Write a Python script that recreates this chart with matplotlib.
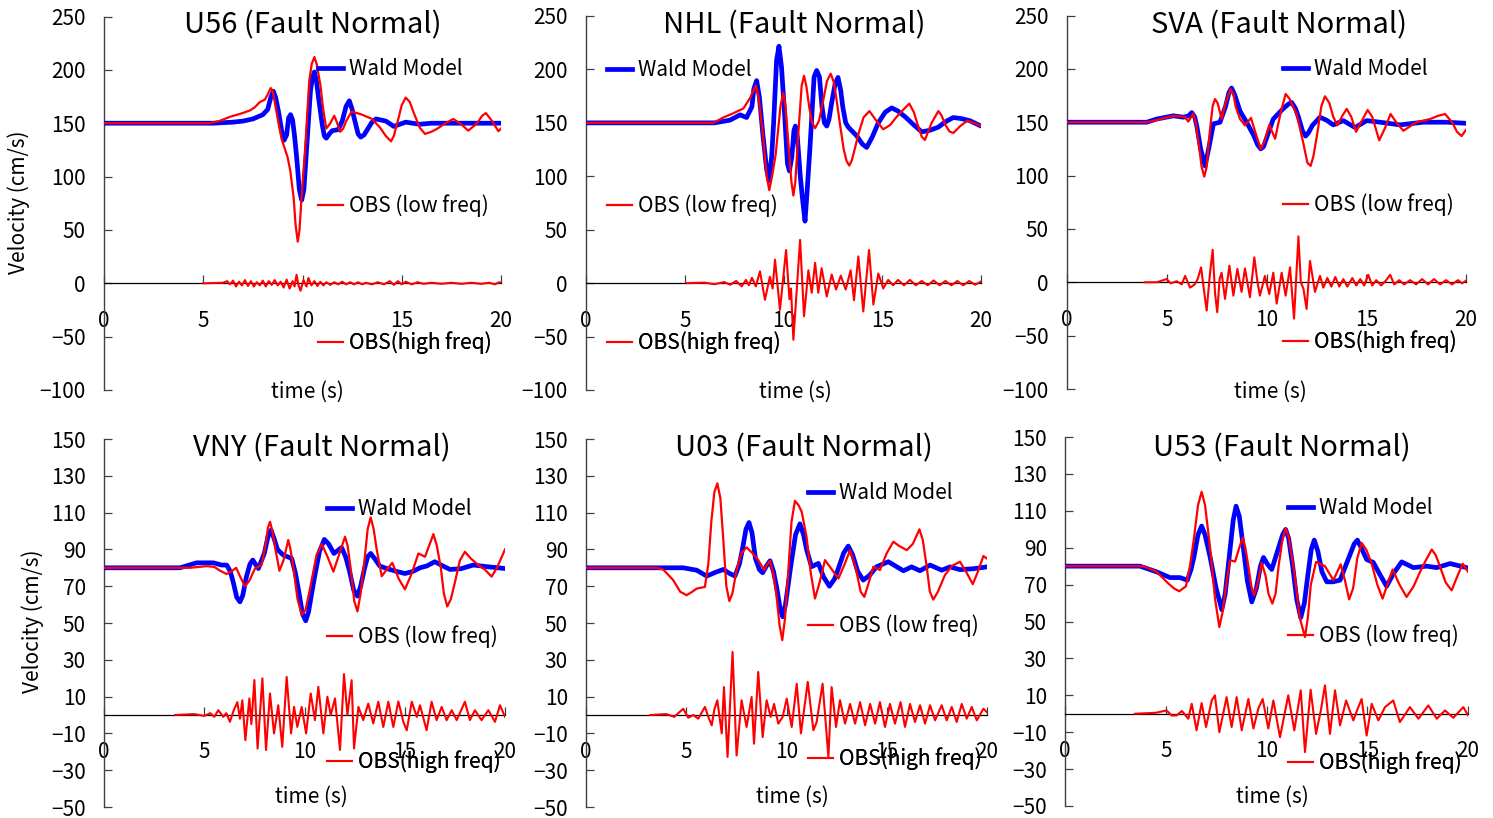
import numpy as np
import matplotlib
matplotlib.use('Agg')
import matplotlib.pyplot as plt
from matplotlib.lines import Line2D

plt.rcParams['font.family'] = ['Noto Sans CJK JP', 'DejaVu Sans']
plt.rcParams['axes.unicode_minus'] = True

# ---------------- data (time s, velocity cm/s) ----------------
U56_WALD = [(0,150),(5.5,150),(6.5,151),(7.0,152),(7.5,154),(8.0,158),(8.25,163),(8.4,174),(8.53,180),(8.65,174),
            (8.8,160),(8.95,143),(9.07,134),(9.2,139),(9.3,155),(9.4,158),(9.5,153),(9.6,138),(9.72,115),(9.84,88),
            (9.96,78),(10.07,88),(10.2,124),(10.4,180),(10.5,193),(10.6,198),(10.7,190),(10.8,175),(11.0,148),
            (11.1,138),(11.2,136),(11.35,140),(11.5,143),(11.8,144),(12.0,152),(12.2,166),(12.36,171),(12.5,163),
            (12.6,155),(12.8,140),(12.93,137),(13.1,139),(13.3,145),(13.5,151),(13.7,154),(14.2,152),(14.6,147),
            (14.9,149),(15.2,151),(15.9,149),(16.5,150),(20,150)]
U56_LOW = [(0,150),(5.3,150),(5.8,152),(6.35,156),(6.9,159),(7.36,162),(7.6,165),(7.86,170),(8.1,172),(8.25,177),
           (8.4,183),(8.5,180),(8.6,170),(8.79,150),(8.95,135),(9.13,125),(9.25,118),(9.38,106),(9.55,81),(9.65,55),
           (9.76,39),(9.85,50),(9.95,80),(10.13,125),(10.34,190),(10.47,206),(10.6,212),(10.72,205),(10.9,186),
           (11.05,162),(11.2,145),(11.4,150),(11.6,157),(11.75,150),(11.9,142),(12.05,145),(12.2,152),(12.48,161),
           (13.0,158),(13.5,154),(13.9,146),(14.2,138),(14.46,133),(14.6,138),(14.8,152),(15.0,167),(15.2,174),
           (15.4,170),(15.6,160),(15.9,146),(16.17,140),(16.5,142),(16.8,145),(17.2,150),(17.6,154),(18.0,149),
           (18.35,143),(18.8,150),(19.05,157),(19.24,159.5),(19.55,152),(19.87,142.5),(20,145)]
U56_HIGH = [(5.0,0),(6.0,0.5),(6.2,2),(6.35,-1),(6.5,2.5),(6.65,-3),(6.8,1.5),(6.95,-2),(7.1,3),(7.25,-2.5),(7.4,2),
            (7.55,-3),(7.7,1),(7.85,-2),(8.0,2.5),(8.15,-3),(8.3,2),(8.45,-1.5),(8.6,3),(8.75,-2),(8.9,1.5),(9.05,-4),
            (9.2,3.5),(9.35,-5),(9.5,2),(9.6,-3),(9.7,8),(9.8,-2),(9.9,-7),(10.05,3),(10.2,-3),(10.3,5),(10.45,-2),
            (10.6,2),(10.75,-2.5),(10.9,1.5),(11.05,-2),(11.2,1),(11.4,-1.5),(11.6,1),(11.8,-1),(12.0,1.5),(12.2,-1),
            (12.4,1),(12.6,-1),(12.8,1),(13.0,-1),(13.2,0.5),(13.5,-1),(13.8,1),(14.1,-1),(14.4,2),(14.6,-1.5),
            (14.8,2),(15.0,-1),(15.2,1.5),(15.5,-1),(15.8,1),(16.1,-0.5),(16.5,0.5),(17.0,-0.5),(17.5,0.5),
            (18.0,-0.5),(18.5,0.5),(19.0,-0.5),(19.4,0.5),(19.7,-1),(19.9,1),(20,0.5)]

NHL_WALD = [(0,150),(6.5,150),(7.29,152.5),(7.8,157.5),(8.13,155),(8.4,165),(8.5,182),(8.64,189.5),(8.78,174),
            (8.95,140),(9.15,106),(9.27,96),(9.4,118),(9.5,150),(9.65,208.6),(9.77,221.7),(9.9,202),(10.05,160),
            (10.2,112),(10.3,105),(10.42,118),(10.53,143),(10.6,147),(10.7,137),(10.85,100),(10.95,81),(11.09,58),
            (11.2,87),(11.35,130),(11.55,193),(11.68,199),(11.82,193),(11.95,165),(12.07,150),(12.19,147),
            (12.3,153),(12.45,170),(12.62,187),(12.76,192.5),(12.9,180),(13.0,165),(13.15,150),(13.28,146),
            (13.7,138),(14.0,130),(14.21,127),(14.5,137),(14.8,150),(15.15,160),(15.48,164),(15.8,161),(16.2,155),
            (16.6,148),(17.0,141.6),(17.4,143),(17.84,146),(18.2,151),(18.6,155),(19.0,154),(19.44,152),(20,147)]
NHL_LOW = [(0,150),(6.45,150),(6.95,155),(7.46,159),(7.97,163.5),(8.3,173),(8.5,181),(8.61,185),(8.72,176),
           (8.95,140),(9.15,100),(9.28,87),(9.42,100),(9.6,120),(9.85,166),(9.99,178),(10.1,166),(10.25,130),
           (10.4,95),(10.5,82),(10.6,95),(10.75,140),(10.92,185),(11.04,194),(11.16,184),(11.3,165),(11.45,150),
           (11.6,145),(11.8,152),(12.0,170),(12.2,189),(12.39,196),(12.55,188),(12.7,170),(12.85,150),(13.05,125),
           (13.2,114),(13.33,110),(13.46,115),(13.6,125),(13.8,140),(14.05,155),(14.35,161),(14.7,152),(15.05,144),
           (15.4,148),(15.7,155),(16.05,162),(16.37,168),(16.6,160),(16.8,148),(17.0,137),(17.16,134),(17.35,143),
           (17.5,150),(17.84,161),(18.0,157),(18.2,148),(18.4,142),(18.6,140.5),(18.95,147),(19.31,152),
           (19.65,150),(20,147)]
NHL_HIGH = [(5.1,0),(6.0,0.5),(6.5,-1),(7.0,1),(7.3,-1.5),(7.6,2),(7.88,-3),(8.1,3),(8.25,-2),(8.4,5),(8.6,-3),
            (8.81,11),(9.06,-15.6),(9.31,6),(9.45,-5),(9.57,22),(9.82,-25),(10.13,31),(10.3,-15),(10.38,-5),
            (10.5,-53),(10.84,40.5),(11.04,-31),(11.26,12),(11.43,-9),(11.6,19),(11.76,-9),(11.93,14),(12.19,-12.5),
            (12.44,8),(12.66,-6),(12.9,7),(13.15,-6),(13.4,12),(13.57,-16),(13.79,25),(14.04,-26.5),(14.33,31),
            (14.55,-20),(14.8,9),(15.05,-5),(15.3,3),(15.55,-2),(15.8,3),(16.1,-2),(16.4,3),(16.7,-2),(17.0,2),
            (17.3,-2),(17.6,2.5),(17.9,-2),(18.2,2),(18.5,-2),(18.8,2),(19.1,-2),(19.4,2),(19.7,-1.5),(20,1.5)]

SVA_WALD = [(0,150),(4.0,150),(4.5,153),(5.33,156),(5.83,154.7),(6.1,156),(6.25,159),(6.4,155),(6.5,147),
            (6.7,125),(6.92,109),(7.1,125),(7.34,148.5),(7.67,150),(7.95,165),(8.12,178),(8.25,182),(8.4,176),
            (8.67,160.5),(9.0,150),(9.35,138),(9.55,129),(9.71,125),(9.85,127),(10.0,135),(10.34,153),(10.8,162),
            (11.1,167),(11.26,168.5),(11.45,163),(11.6,155),(11.8,142),(11.96,137),(12.1,140),(12.3,147),
            (12.68,154.7),(13.0,152),(13.35,147.5),(13.85,151.5),(14.44,145),(15.02,151.5),(15.69,150),
            (16.69,147.5),(17.86,150),(19.03,150),(20,149)]
SVA_LOW = [(0,150),(4.0,150),(4.5,152),(5.33,156),(5.9,155),(6.08,150.6),(6.33,158),(6.45,150),(6.6,130),
           (6.75,108),(6.88,99),(7.0,108),(7.15,140),(7.3,165),(7.42,171.7),(7.55,168),(7.75,153),(7.95,168),
           (8.2,181),(8.35,176),(8.45,165),(8.67,153),(8.92,147),(9.22,154),(9.45,140),(9.71,125),(9.9,132),
           (10.14,147.5),(10.43,134.5),(10.7,158),(10.96,176.5),(11.15,172),(11.51,157.7),(11.85,130),(12.05,112),
           (12.21,109),(12.35,118),(12.55,140),(12.75,165),(12.93,174.3),(13.15,168),(13.35,155),(13.55,147),
           (13.8,156),(14.02,162.5),(14.25,155),(14.49,141),(14.8,152),(15.07,161.5),(15.3,155),(15.65,133),
           (15.95,145),(16.22,157.7),(16.5,150),(16.86,142),(17.52,150),(18.2,153),(18.6,156),(18.95,157.7),
           (19.3,150),(19.55,141),(19.78,137),(20,143)]
SVA_HIGH = [(3.9,0),(4.5,0),(4.99,3),(5.2,-1),(5.5,1),(5.75,-2),(5.92,6),(6.17,-5),(6.4,-2),(6.55,3),(6.72,14),
            (6.85,-5),(7.0,-26.5),(7.15,5),(7.3,30.5),(7.42,-10),(7.53,-28),(7.65,3),(7.75,9),(7.92,-15.6),
            (8.14,15.6),(8.34,-12.5),(8.54,12.5),(8.75,-9),(8.92,13),(9.17,-14),(9.39,23.4),(9.55,0),(9.67,-12.5),
            (9.92,6),(10.14,-11),(10.34,9),(10.51,-20),(10.76,9),(10.96,-12.5),(11.18,14),(11.38,-34),(11.6,43),
            (11.72,0),(11.85,-6),(12.01,-25),(12.18,20),(12.43,-9),(12.68,6),(12.85,-5),(13.05,4),(13.25,-4),
            (13.45,5),(13.65,-4),(13.85,3),(14.05,-4),(14.3,4),(14.5,-3),(14.7,3),(14.9,-3),(15.1,7),(15.3,-3),
            (15.5,2),(15.75,-3),(16.0,2),(16.2,7),(16.4,-2),(16.65,2),(16.9,-2),(17.2,2),(17.5,-2),(17.8,3),
            (18.1,-2),(18.4,3),(18.7,-2),(19.0,2),(19.3,-2),(19.6,2),(19.8,-1),(20,1.5)]

VNY_WALD = [(0,80),(3.79,80),(4.62,82.7),(5.45,82.7),(5.87,81.5),(6.12,81.5),(6.3,78),(6.45,72),(6.62,64),
            (6.78,61.5),(6.92,65),(7.1,75),(7.28,82),(7.42,84.2),(7.55,82),(7.7,79.6),(8.0,88),(8.18,97),
            (8.33,100.5),(8.48,96),(8.65,90),(8.94,86.9),(9.36,85.1),(9.55,77),(9.7,68),(9.9,55),(10.06,51.2),
            (10.2,56),(10.5,75),(10.75,89),(10.99,95.4),(11.2,93),(11.47,87.8),(11.85,91),(12.05,86),(12.25,78),
            (12.45,68),(12.64,64.6),(12.8,70),(13.0,80),(13.15,86),(13.3,87.8),(13.5,85),(13.75,81),(14.1,79.6),
            (14.6,78),(15.01,76.9),(15.4,78),(15.76,80),(16.1,81),(16.5,83.3),(16.9,81),(17.26,79.1),(17.8,79.5),
            (18.42,81.5),(19.2,80.5),(20,79.6)]
VNY_LOW = [(0,80),(4.29,80),(5.12,80.9),(5.5,80.5),(5.79,78.4),(6.12,76.6),(6.35,78),(6.59,80),(6.8,75),
           (7.03,70),(7.25,73),(7.53,79.6),(7.86,81.5),(8.05,92),(8.18,102),(8.28,105),(8.4,100),(8.55,90),
           (8.75,78.4),(8.95,84),(9.19,95.1),(9.3,90),(9.44,80.6),(9.65,63),(9.86,54.5),(10.05,57),(10.3,70),
           (10.6,87),(10.86,92.9),(11.15,86),(11.44,77.9),(11.75,88),(12.02,96.9),(12.15,92),(12.3,80),(12.48,62),
           (12.64,56.3),(12.8,66),(13.0,85),(13.15,101),(13.3,107.4),(13.45,101),(13.6,90),(13.85,75.4),(14.1,79),
           (14.38,82.7),(14.7,74),(15.01,68.3),(15.35,77),(15.68,87.8),(16.01,86),(16.25,93),(16.43,98.3),
           (16.6,92),(16.8,80),(16.95,66),(17.12,59),(17.3,63),(17.5,72),(17.75,84),(18.0,88.7),(18.3,85),
           (18.67,81.5),(19.0,79),(19.33,75.2),(19.6,80),(20,90)]
VNY_HIGH = [(3.55,0),(4.5,0.5),(5.0,-0.5),(5.3,1),(5.5,-1),(5.7,2.6),(5.95,-1),(6.1,1),(6.28,-3.7),(6.45,2),
            (6.65,7),(6.78,-2),(6.9,8),(7.05,-13.7),(7.25,9),(7.35,-5),(7.5,19),(7.66,-18.2),(7.9,19.9),(8.08,-19),
            (8.28,11.7),(8.48,-10),(8.69,5.3),(8.89,-17.3),(9.11,20.7),(9.33,-10),(9.48,4.4),(9.64,-6.5),(9.86,4.4),
            (10.08,-10),(10.31,11.7),(10.52,-2.8),(10.69,15.3),(10.94,-10),(11.14,9.9),(11.31,0),(11.52,9),
            (11.77,-19),(11.97,22.2),(12.14,0),(12.35,18.9),(12.47,-18.2),(12.69,4.4),(12.93,-2.8),(13.18,6.2),
            (13.43,-4.6),(13.68,7.2),(13.93,-6.5),(14.18,7.2),(14.43,-6.5),(14.68,7.4),(14.93,-3.7),(15.1,-8.3),
            (15.35,7.2),(15.6,-1),(15.76,5.3),(16.09,-8.3),(16.34,7.2),(16.59,-2.8),(16.84,4.4),(17.09,-2.8),
            (17.34,2.6),(17.59,-2.8),(18.0,7.2),(18.25,-2.8),(18.5,2.6),(18.83,-2.8),(19.17,2.6),(19.5,-3.7),
            (19.75,5.3),(20,-1)]

U03_WALD = [(0,80),(4.0,80),(4.85,80),(5.52,78.7),(6.02,75.5),(6.45,77.5),(6.85,79.1),(7.15,77),(7.43,75.5),
            (7.65,82),(7.8,90),(7.98,101),(8.13,104.6),(8.28,99),(8.45,85),(8.65,79),(8.81,77.3),(9.0,81),
            (9.18,83.8),(9.35,78),(9.5,70),(9.68,58),(9.81,53.4),(9.95,60),(10.2,80),(10.45,98),(10.67,103.9),
            (10.85,98),(11.0,90),(11.25,80.6),(11.59,82.4),(11.85,75),(12.14,70),(12.4,74),(12.6,80),(12.85,88),
            (13.08,91.8),(13.3,87),(13.55,78),(13.83,73.3),(14.15,76),(14.5,80.6),(15.08,83.3),(15.83,78.4),
            (16.24,80.5),(16.66,78.4),(17.16,81.5),(17.74,78.7),(18.16,80.5),(18.65,79),(19.32,79.5),(20,80.5)]
U03_LOW = [(0,80),(3.5,80),(3.86,79),(4.35,73.3),(4.7,67),(5.02,65.1),(5.3,67),(5.52,68.7),(5.93,69.6),(6.1,82),
           (6.25,105),(6.4,121),(6.55,125.9),(6.7,118),(6.85,95),(7.0,70),(7.15,61.9),(7.3,66),(7.51,78.8),
           (7.75,88),(8.01,91.1),(8.3,88),(8.59,84.2),(8.88,78.8),(9.05,82),(9.18,83.8),(9.32,78),(9.5,65),
           (9.65,49),(9.79,40.7),(9.92,52),(10.1,80),(10.25,105),(10.42,116.4),(10.6,114),(10.76,110.4),(11.0,96.8),
           (11.2,78),(11.42,63.3),(11.65,72),(11.92,84.2),(12.2,80),(12.59,74.2),(12.9,82),(13.17,89.6),(13.45,80),
           (13.7,67),(13.88,64.2),(14.05,70),(14.33,80.6),(14.66,78.8),(15.0,88),(15.33,94.2),(15.6,92),(16.0,89.6),
           (16.3,93),(16.63,100.9),(16.8,95),(17.0,80),(17.15,67),(17.32,62.7),(17.55,67),(17.9,76),(18.25,81),
           (18.65,83.3),(18.95,78),(19.29,71.1),(19.55,78),(19.82,86.4),(20,85)]
U03_HIGH = [(3.2,0),(4.0,0.5),(4.4,-1),(4.85,3.4),(5.1,-1.5),(5.35,0),(5.6,-2),(5.93,4.4),(6.1,-1),(6.27,-5.6),
            (6.4,3),(6.55,8),(6.77,-10),(6.88,15.2),(7.06,-22.8),(7.31,34.3),(7.51,-22),(7.76,8),(8.01,-6.5),
            (8.26,9.8),(8.38,-15.6),(8.59,23.4),(8.81,-12),(9.01,8),(9.21,-1),(9.38,6),(9.59,-4.7),(9.81,-1),
            (10.01,8.9),(10.26,-6.5),(10.51,17),(10.72,-10),(11.06,18),(11.34,-8.3),(11.5,-4),(11.8,17),
            (12.09,-22.8),(12.25,15.2),(12.47,-6.5),(12.67,8),(12.92,-4.7),(13.17,6),(13.42,-4.7),(13.67,7),
            (13.92,-5.6),(14.17,6),(14.42,-4.7),(14.66,7),(14.91,-6.5),(15.16,6),(15.41,-4.7),(15.69,7),
            (15.91,-6.5),(16.16,6),(16.41,-3.8),(16.66,5.3),(16.91,-4.7),(17.16,5.3),(17.41,-2.9),(17.74,5.3),
            (17.99,-2.9),(18.24,4.4),(18.49,-3.8),(18.74,6),(18.99,-2),(19.24,4.4),(19.49,-2.9),(19.82,3.4),(20,1.5)]

U53_WALD = [(0,80),(3.72,80),(4.55,76.9),(5.21,73.8),(5.71,73.8),(6.07,72.4),(6.25,78),(6.4,85),(6.6,97),
            (6.78,101.7),(6.95,97),(7.2,85),(7.5,68),(7.78,56.4),(7.95,65),(8.15,85),(8.35,105),(8.49,112.5),
            (8.65,107),(8.85,90),(9.05,72),(9.27,60.6),(9.5,68),(9.7,80),(9.85,84.7),(10.05,81),(10.26,78.2),
            (10.6,90),(10.8,97),(10.95,99.9),(11.1,95),(11.3,80),(11.5,62),(11.7,52.1),(11.88,60),(12.05,75),
            (12.22,89),(12.37,94.1),(12.55,88),(12.75,77),(12.99,71.5),(13.3,71.5),(13.65,72.4),(14.1,85),
            (14.35,92),(14.51,94.1),(14.7,90),(14.97,83.6),(15.3,82),(15.6,76),(15.96,69.1),(16.3,76),(16.71,82.3),
            (17.29,79.2),(17.95,80),(18.45,79.2),(19.11,81.4),(20,79)]
U53_LOW = [(0,80),(3.89,80),(4.55,76.9),(5.13,70.6),(5.4,68),(5.67,66.4),(6.0,69.1),(6.2,80),(6.4,95),(6.6,113),
           (6.78,120.3),(6.95,113),(7.2,90),(7.45,62),(7.66,47),(7.82,55),(8.0,70),(8.19,83.2),(8.44,82.5),
           (8.65,90),(8.82,95.5),(8.95,90),(9.1,80),(9.25,69),(9.38,64.2),(9.55,70),(9.76,81.8),(9.95,75),(10.1,65),
           (10.29,59.7),(10.45,65),(10.6,80),(10.8,95),(10.95,100.4),(11.1,96),(11.4,75),(11.65,52),(11.91,41.6),
           (12.05,52),(12.2,70),(12.46,82.3),(12.9,80),(13.32,72.4),(13.68,81),(13.9,72),(14.1,62),(14.3,68),
           (14.5,84),(14.72,92.6),(14.95,89),(15.2,82),(15.5,70),(15.76,62.4),(16.0,70),(16.26,78.2),(16.6,70),
           (16.95,63.3),(17.3,69),(17.62,76.9),(17.9,83),(18.2,89),(18.4,86),(18.6,80),(18.9,71),(19.19,66.9),
           (19.45,74),(19.74,81.3),(20,77)]
U53_HIGH = [(3.47,0),(4.5,0.5),(5.04,1.8),(5.3,-1),(5.54,-0.9),(5.8,1.5),(6.12,-2.7),(6.29,5.4),(6.53,-9),
            (6.78,5.8),(7.0,-7.2),(7.28,7.2),(7.44,10),(7.66,-10),(8.02,9),(8.27,-7.2),(8.52,9),(8.77,-9),(9.1,8),
            (9.35,-8),(9.6,3),(9.81,8),(10.09,-8),(10.34,7.2),(10.67,-12.7),(11.08,10),(11.38,-9),(11.7,12.7),
            (11.91,-20.8),(12.19,13),(12.46,-10.9),(12.7,2),(12.9,15.4),(13.15,-10.9),(13.4,12.7),(13.65,-6.3),
            (13.95,7.2),(14.31,-3.6),(14.5,2),(14.72,8),(14.97,-11.8),(15.22,5.4),(15.55,-3.6),(15.88,3.6),
            (16.29,7.2),(16.62,-4.5),(17.12,3.6),(17.54,-2.7),(18.03,4.5),(18.45,-2.7),(18.86,1.8),(19.27,-2.2),
            (19.77,3.6),(20,-0.9)]

TITLES = ['U56 (Fault Normal)', 'NHL (Fault Normal)', 'SVA (Fault Normal)',
          'VNY (Fault Normal)', 'U03 (Fault Normal)', 'U53 (Fault Normal)']
SERIES_LABELS = ['Wald Model', 'OBS (low freq)', 'OBS(high freq)']
X_TICKS = [0, 5, 10, 15, 20]
Y_TICKS_TOP = [-100, -50, 0, 50, 100, 150, 200, 250]
Y_TICKS_BOTTOM = [-50, -30, -10, 10, 30, 50, 70, 90, 110, 130, 150]

# ---------------- layout ----------------
W, H = 1493, 818
fig = plt.figure(figsize=(W / 100, H / 100), dpi=100)

BLUE = '#0000FF'
RED = '#FF0000'

panels = [
    dict(data=(U56_WALD, U56_LOW, U56_HIGH), box=(104, 501, 16.5, 390), top=True,
         title=(313, 25), legy=(69, 206, 343), legx=318, xlab=(307, 392), ylab=(19, 202)),
    dict(data=(NHL_WALD, NHL_LOW, NHL_HIGH), box=(586, 981, 16, 390), top=True,
         title=(794, 25), legy=(70, 206, 343), legx=607, xlab=(795, 392), ylab=None),
    dict(data=(SVA_WALD, SVA_LOW, SVA_HIGH), box=(1067, 1466, 15.5, 389), top=True,
         title=(1279, 25), legy=(69, 205, 342), legx=1283, xlab=(1270, 392), ylab=None),
    dict(data=(VNY_WALD, VNY_LOW, VNY_HIGH), box=(104, 505, 439, 807), top=False,
         title=(322, 448), legy=(509, 637, 762), legx=327, xlab=(311, 797), ylab=(33, 621)),
    dict(data=(U03_WALD, U03_LOW, U03_HIGH), box=(586, 987, 439, 807), top=False,
         title=(804, 448), legy=(493, 626, 759), legx=808, xlab=(792, 797), ylab=None),
    dict(data=(U53_WALD, U53_LOW, U53_HIGH), box=(1065, 1468, 437, 806), top=False,
         title=(1282, 448), legy=(508, 636, 763), legx=1288, xlab=(1272, 797), ylab=None),
]

for i, p in enumerate(panels):
    L, R, T, B = p['box']
    ax = fig.add_axes([L / W, 1 - B / H, (R - L) / W, (B - T) / H])
    ax.patch.set_alpha(0)
    wald, low, high = [np.array(s, dtype=float) for s in p['data']]

    h1, = ax.plot(wald[:, 0], wald[:, 1], color=BLUE, lw=3.4, solid_joinstyle='round',
                  solid_capstyle='round', zorder=3)
    h2, = ax.plot(low[:, 0], low[:, 1], color=RED, lw=1.6, solid_joinstyle='round', zorder=4)
    h3, = ax.plot(high[:, 0], high[:, 1], color=RED, lw=1.5, solid_joinstyle='round', zorder=4)

    ax.set_xlim(0, 20)
    if p['top']:
        ax.set_ylim(-100, 250)
        ax.set_yticks(Y_TICKS_TOP)
    else:
        ax.set_ylim(-50, 150)
        ax.set_yticks(Y_TICKS_BOTTOM)
    ax.set_xticks(X_TICKS)

    for s in ('top', 'right'):
        ax.spines[s].set_visible(False)
    ax.spines['bottom'].set_position(('data', 0))
    ax.spines['bottom'].set_color('black')
    ax.spines['bottom'].set_linewidth(0.9)
    ax.spines['left'].set_color('#404040')
    ax.spines['left'].set_linewidth(1.0)
    ax.tick_params(axis='y', direction='in', length=6, width=0.9, pad=13,
                   labelsize=15, colors='#404040', labelcolor='black')
    ax.tick_params(axis='x', direction='in', length=6, width=0.9, pad=19,
                   labelsize=15, colors='#404040', labelcolor='black')

    # title and axis captions
    fig.text(p['title'][0] / W, 1 - p['title'][1] / H, TITLES[i], fontsize=21,
             ha='center', va='center')
    fig.text(p['xlab'][0] / W, 1 - p['xlab'][1] / H, 'time (s)', fontsize=15,
             ha='center', va='center')
    if p['ylab'] is not None:
        fig.text(p['ylab'][0] / W, 1 - p['ylab'][1] / H, 'Velocity (cm/s)', fontsize=15,
                 ha='center', va='center', rotation=90)

    # three separately placed legend entries
    for h, lab, yy in zip((h1, h2, h3), SERIES_LABELS, p['legy']):
        proxy = Line2D([], [], color=h.get_color(), lw=h.get_linewidth())
        leg = ax.legend([proxy], [lab], loc='center left',
                        bbox_to_anchor=(p['legx'] / W, 1 - yy / H),
                        bbox_transform=fig.transFigure, frameon=False,
                        handlelength=1.2, handletextpad=0.3, borderpad=0,
                        borderaxespad=0, fontsize=15)
        ax.add_artist(leg)

fig.savefig('out.png', dpi=100)
